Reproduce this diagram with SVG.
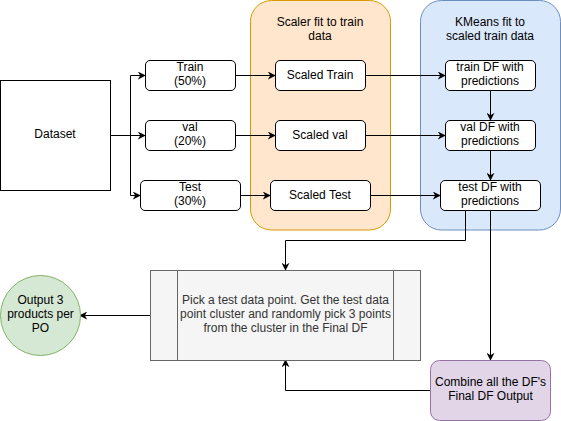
<svg xmlns="http://www.w3.org/2000/svg" width="561" height="421" viewBox="0 0 561 421">
<defs>
<marker id="arr" viewBox="0 0 10 10" refX="9" refY="5" markerWidth="8" markerHeight="8" markerUnits="userSpaceOnUse" orient="auto">
<path d="M0,0 L10,5 L0,10 L3,5 z" fill="#000"/>
</marker>
<style>
text{font-family:"Liberation Sans",Arial,sans-serif;font-size:12px;text-anchor:middle;fill:#000}
.box{fill:#fff;stroke:#000;stroke-width:1}
.c{fill:none;stroke:#000;stroke-width:1;marker-end:url(#arr)}
.l{fill:none;stroke:#000;stroke-width:1}
</style>
</defs>
<rect width="561" height="421" fill="#fff"/>
<g id="scaler-group">
<rect x="250.5" y="0.5" width="140" height="229.5" rx="21" fill="#ffe6cc" stroke="#d79b00"/>
<text x="320" y="26">Scaler fit to train</text>
<text x="320" y="40">data</text>
</g>
<g id="kmeans-group">
<rect x="420.5" y="0.5" width="140" height="229.5" rx="21" fill="#dae8fc" stroke="#6c8ebf"/>
<text x="490" y="26">KMeans fit to</text>
<text x="490" y="40">scaled train data</text>
</g>
<g id="connectors">
<path class="l" d="M110,135.5 H130.5"/>
<path class="c" d="M130.5,195.5 V75.5 H145"/>
<path class="c" d="M130.5,135.5 H145"/>
<path class="c" d="M130.5,195.5 H140"/>
<path class="c" d="M235,75.5 H275"/>
<path class="c" d="M235,135.5 H275"/>
<path class="c" d="M240,195.5 H270"/>
<path class="c" d="M365,75.5 H445"/>
<path class="c" d="M365,135.5 H445"/>
<path class="c" d="M370,195.5 H440"/>
<path class="c" d="M490.5,90 V120"/>
<path class="c" d="M490.5,150 V180"/>
<path class="c" d="M465.5,210 V240.5 H285.5 V270"/>
<path class="c" d="M490.5,210 V360"/>
<path class="c" d="M430,390.5 H285.5 V360"/>
<path class="c" d="M150,315.5 H80"/>
</g>
<g id="dataset">
<rect class="box" x="0.5" y="80.5" width="110" height="110"/>
<text x="55" y="138">Dataset</text>
</g>
<g id="train">
<rect class="box" x="145.5" y="60.5" width="90" height="30" rx="4.5"/>
<text x="190" y="71">Train</text>
<text x="190" y="85">(50%)</text>
</g>
<g id="val">
<rect class="box" x="145.5" y="120.5" width="90" height="30" rx="4.5"/>
<text x="190" y="131">val</text>
<text x="190" y="145">(20%)</text>
</g>
<g id="test">
<rect class="box" x="140.5" y="180.5" width="100" height="30" rx="4.5"/>
<text x="190" y="191">Test</text>
<text x="190" y="205">(30%)</text>
</g>
<g id="scaled-train">
<rect class="box" x="275.5" y="60.5" width="90" height="30" rx="4.5"/>
<text x="320" y="79">Scaled Train</text>
</g>
<g id="scaled-val">
<rect class="box" x="275.5" y="120.5" width="90" height="30" rx="4.5"/>
<text x="320" y="139">Scaled val</text>
</g>
<g id="scaled-test">
<rect class="box" x="270.5" y="180.5" width="100" height="30" rx="4.5"/>
<text x="320" y="199">Scaled Test</text>
</g>
<g id="train-df">
<rect class="box" x="445.5" y="60.5" width="90" height="30" rx="4.5"/>
<text x="490" y="71">train DF with</text>
<text x="490" y="85">predictions</text>
</g>
<g id="val-df">
<rect class="box" x="445.5" y="120.5" width="90" height="30" rx="4.5"/>
<text x="490" y="131">val DF with</text>
<text x="490" y="145">predictions</text>
</g>
<g id="test-df">
<rect class="box" x="440.5" y="180.5" width="100" height="30" rx="4.5"/>
<text x="490" y="191">test DF with</text>
<text x="490" y="205">predictions</text>
</g>
<g id="process">
<rect x="150.5" y="270.5" width="270" height="90" fill="#f5f5f5" stroke="#666666"/>
<path d="M177.5,270.5 V360.5 M393.5,270.5 V360.5" stroke="#666666" fill="none"/>
<text x="285.5" y="304" style="fill:#333333">Pick a test data point. Get the test data</text>
<text x="285.5" y="318" style="fill:#333333">point cluster and randomly pick 3 points</text>
<text x="285.5" y="332" style="fill:#333333">from the cluster in the Final DF</text>
</g>
<g id="output">
<circle cx="40.5" cy="315.5" r="40" fill="#d5e8d4" stroke="#82b366"/>
<text x="40.5" y="304">Output 3</text>
<text x="40.5" y="318">products per</text>
<text x="40.5" y="332">PO</text>
</g>
<g id="combine">
<rect x="430.5" y="360.5" width="120" height="60" rx="9" fill="#e1d5e7" stroke="#9673a6"/>
<text x="490.5" y="386">Combine all the DF's</text>
<text x="490.5" y="400">Final DF Output</text>
</g>
</svg>
